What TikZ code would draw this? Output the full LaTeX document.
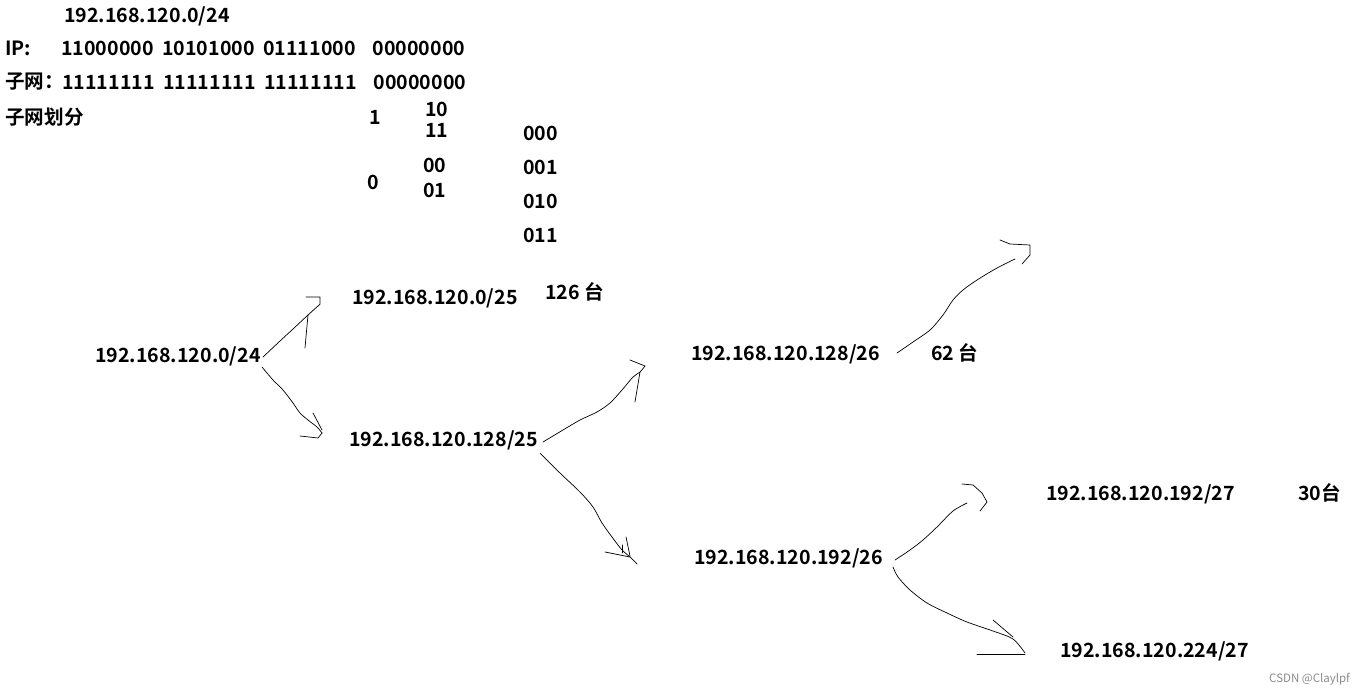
\documentclass[tikz,border=0pt]{standalone}
\usepackage{fontspec}
\setmainfont{Noto Sans CJK SC}[BoldFont={Noto Sans CJK SC Bold}]
\newcommand\gp{\hspace{8.5pt}}
\begin{document}
\begin{tikzpicture}[x=1pt,y=-1pt,
  lbl/.style={anchor=west,inner sep=0pt,font=\fontsize{19.6}{20}\selectfont\bfseries},
  stroke/.style={line width=0.7pt,line cap=round,line join=round},
  wm/.style={anchor=west,inner sep=0pt,font=\fontsize{11.5}{12}\selectfont,text=black!45}]
\useasboundingbox[fill=white] (0,0) rectangle (1370,696);
% header texts
\node[lbl] (t0) at (64,16) {192.168.120.0/24};
\node[lbl] (ip) at (5,48) {IP:};
\node[lbl] (ipb) at (61,48) {11000000\gp10101000\gp01111000\gp\gp00000000};
\node[lbl] (mask) at (5,82) {子网：};
\node[lbl] (maskb) at (62,82) {11111111\gp11111111\gp11111111\gp\gp00000000};
\node[lbl] (div) at (5,117) {子网划分};
\node[lbl] (b1) at (369,117) {1};
\node[lbl] (b10) at (425,109) {10};
\node[lbl] (b11) at (425,130) {11};
\node[lbl] (b0) at (367,182) {0};
\node[lbl] (b00) at (423,165) {00};
\node[lbl] (b01) at (423,190) {01};
\node[lbl] (c000) at (523,133) {000};
\node[lbl] (c001) at (523,167) {001};
\node[lbl] (c010) at (523,201) {010};
\node[lbl] (c011) at (523,235) {011};
% tree nodes
\node[lbl] (n24) at (95,356) {192.168.120.0/24};
\node[lbl] (n25a) at (352,298) {192.168.120.0/25};
\node[lbl] (h126) at (545,292) {126 台};
\node[lbl] (n25b) at (349,440) {192.168.120.128/25};
\node[lbl] (n26a) at (691,354) {192.168.120.128/26};
\node[lbl] (h62) at (931,353) {62 台};
\node[lbl] (n26b) at (694,558) {192.168.120.192/26};
\node[lbl] (n27a) at (1046,494) {192.168.120.192/27};
\node[lbl] (h30) at (1298,493) {30台};
\node[lbl] (n27b) at (1060,651) {192.168.120.224/27};
\node[wm] (wmk) at (1269,679) {CSDN @Claylpf};
% hand-drawn arrows
\coordinate (e1) at (318,306);
\draw[stroke] plot[smooth] coordinates {(263,357) (280,341) (293,329) (308,315) (318,306)};
\draw[stroke] (306,297) -- (320,297) -- (320,304) -- (e1);
\draw[stroke] (308,315) -- (305,348);
%
\coordinate (e2) at (322,433);
\draw[stroke] plot[smooth] coordinates {(262,367) (273,380) (283,390) (293,403) (300,413) (308,420) (317,427) (322,433)};
\draw[stroke] (e2) -- (318,438) -- (300,436);
\draw[stroke] (313,413) -- (322,430);
%
\coordinate (e3) at (645,366);
\draw[stroke] plot[smooth] coordinates {(543,442) (563,430) (580,420) (597,412) (610,403) (622,390) (633,377) (640,372) (645,366)};
\draw[stroke] (630,360) -- (e3);
\draw[stroke] (640,372) -- (635,402);
%
\coordinate (e4) at (1015,259);
\draw[stroke] plot[smooth] coordinates {(897,353) (913,342) (930,330) (943,315) (953,300) (963,290) (977,280) (997,268) (1015,259)};
\draw[stroke] (1000,240) -- (1010,244) -- (1030,245) -- (1030,255) -- (1022,264);
%
\coordinate (e5) at (637,564);
\draw[stroke] plot[smooth] coordinates {(540,453) (560,473) (580,492) (593,507) (602,523) (612,537) (622,550) (630,557) (637,564)};
\draw[stroke] (605,552) -- (630,557);
\draw[stroke] (626,537) -- (630,556);
\draw[stroke] (622,545) -- (622,553);
%
\coordinate (e6) at (967,503);
\draw[stroke] plot[smooth] coordinates {(895,560) (910,550) (923,540) (937,527) (953,511) (967,503)};
\draw[stroke] (962,484) -- (973,485) -- (982,493) -- (987,502) -- (980,511);
%
\coordinate (e7) at (1025,653);
\draw[stroke] plot[smooth] coordinates {(893,567) (898,577) (910,590) (927,603) (947,613) (967,622) (993,631) (1013,639) (1025,653)};
\draw[stroke] (993,620) -- (1013,637);
\draw[stroke] (977,654) -- (1025,654);
\end{tikzpicture}
\end{document}
